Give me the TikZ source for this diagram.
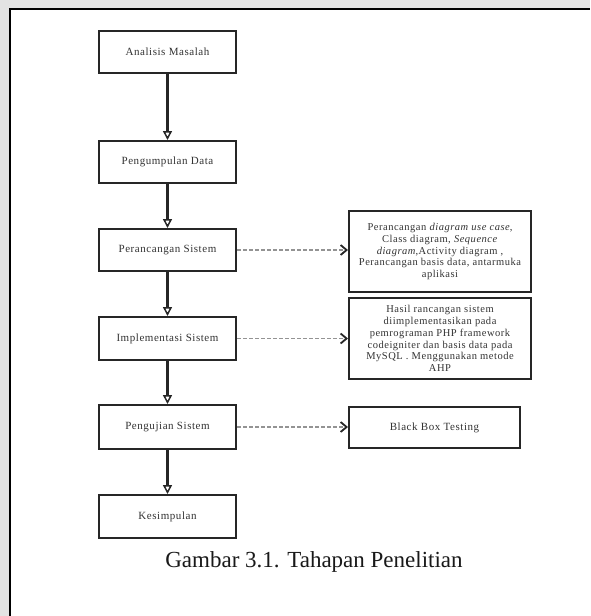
\documentclass[tikz,border=0pt]{standalone}
\usepackage{fontspec}
\setmainfont{Liberation Serif}
\usetikzlibrary{arrows.meta}
\begin{document}
\begin{tikzpicture}[x=1pt,y=-1pt,
 mainbox/.style={draw=black!85,line width=2pt,minimum width=137pt,minimum height=42pt,inner sep=0pt,font=\fontsize{11}{13}\selectfont\addfontfeature{LetterSpace=5},text=black!80},
 sidebox/.style={draw=black!85,line width=2pt,inner sep=0pt,align=center,font=\fontsize{10.5}{11.8}\selectfont\addfontfeature{LetterSpace=5},text=black!80},
 flow/.style={line width=2.2pt,draw=black!85,-{Triangle[open,length=9pt,width=9pt,line width=1.5pt]}},
 dep/.style={draw=gray!85,line width=1.1pt,dash pattern=on 3.5pt off 2.5pt,-{Straight Barb[length=6pt,width=10pt,line width=1.8pt,black!85]}}
]
\useasboundingbox (0,0) rectangle (590,616);
\fill[gray!22] (0,0) rectangle (590,616);
\fill[white] (10,9) rectangle (590,616);
\draw[line width=2pt] (10,616) -- (10,9) -- (590,9);

\node[mainbox] (a) at (167.5,52) {Analisis Masalah};
\node[mainbox] (b) at (167.5,162) {Pengumpulan Data};
\node[mainbox] (c) at (167.5,250) {Perancangan Sistem};
\node[mainbox,minimum height=43pt] (d) at (167.5,338.5) {Implementasi Sistem};
\node[mainbox,minimum height=44pt] (e) at (167.5,427) {Pengujian Sistem};
\node[mainbox,minimum height=43pt] (f) at (167.5,516.5) {Kesimpulan};

\node[sidebox,minimum width=182pt,minimum height=81pt] (r1) at (440,251.5)
 {Perancangan \textit{diagram use case},\\ Class diagram, \textit{Sequence}\\ \textit{diagram},Activity diagram ,\\ Perancangan basis data, antarmuka\\ aplikasi};
\node[sidebox,minimum width=182pt,minimum height=81pt] (r2) at (440,338.5)
 {Hasil rancangan sistem\\ diimplementasikan pada\\ pemrograman PHP framework\\ codeigniter dan basis data pada\\ MySQL . Menggunakan metode\\ AHP};
\node[sidebox,minimum width=171pt,minimum height=41pt,font=\fontsize{11}{13}\selectfont\addfontfeature{LetterSpace=5}] (r3) at (434.5,427.5) {Black Box Testing};

\draw[flow] (a) -- (b);
\draw[flow] (b) -- (c);
\draw[flow] (c) -- (d);
\draw[flow] (d) -- (e);
\draw[flow] (e) -- (f);

\draw[dep] (c.east) -- (c.east -| r1.west);
\draw[dep] (d.east) -- (d.east -| r2.west);
\draw[dep] (e.east) -- (e.east -| r3.west);

\node[anchor=base,font=\fontsize{23}{26}\selectfont,text=black!90] (cap) at (314,567) {Gambar 3.1. Tahapan Penelitian};
\end{tikzpicture}
\end{document}
